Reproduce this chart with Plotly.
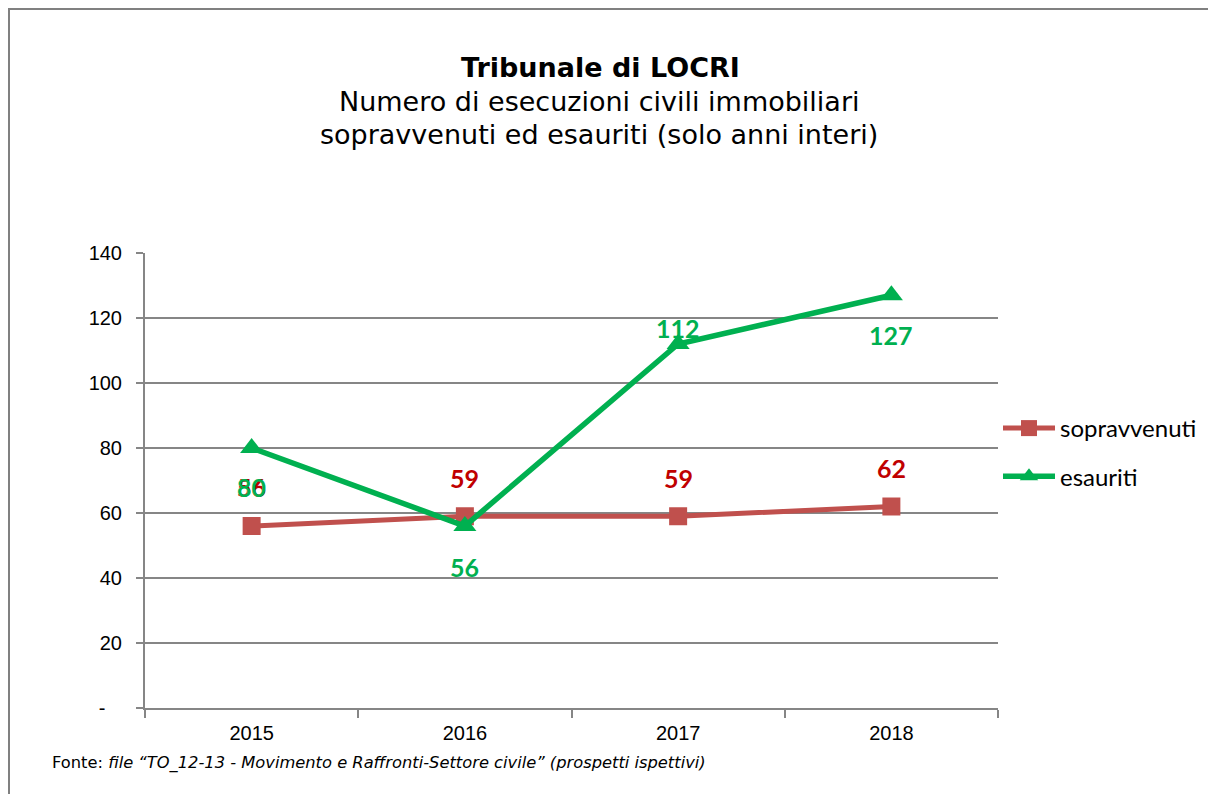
import plotly.graph_objects as go

years = ["2015", "2016", "2017", "2018"]
sopravvenuti = [56, 59, 59, 62]
esauriti = [80, 56, 112, 127]
y_tick_vals = [0, 20, 40, 60, 80, 100, 120, 140]
y_tick_text = ["-\u00a0\u00a0\u00a0", "20", "40", "60", "80", "100", "120", "140"]

title = "<b>Tribunale di LOCRI</b>"
subtitle1 = "Numero di esecuzioni civili immobiliari"
subtitle2 = "sopravvenuti ed esauriti (solo anni interi)"
source = "Fonte: <i>file “TO_12-13 - Movimento e Raffronti-Settore civile” (prospetti ispettivi)</i>"

RED = "#C0504D"
RED_LBL = "#C00000"
GREEN = "#00B050"
GRID = "#868686"

# page body adds an 8px offset; work in target-picture pixels and subtract it
OFF = 8
W, H = 1216 - OFF, 794 - OFF
L, R, T, B = 145 - OFF, 1216 - 998, 253 - OFF, 794 - 708
pw, ph = W - L - R, H - T - B


def dx(xp):
    return (xp - OFF - L) / pw


def dy(yp):
    return (H - B - (yp - OFF)) / ph


fig = go.Figure()
fig.add_trace(go.Scatter(
    x=years, y=sopravvenuti, name="sopravvenuti", mode="lines+markers",
    line=dict(color=RED, width=5),
    marker=dict(symbol="square", size=18, color=RED),
    legendgroup="a",
))
fig.add_trace(go.Scatter(
    x=years, y=esauriti, name="esauriti", mode="lines+markers",
    line=dict(color=GREEN, width=5.5),
    marker=dict(symbol="triangle-up", size=20, color=GREEN),
    legendgroup="b",
))

annotations = []
red_shift = [39, 38, 38, 39]
green_shift = [-39, -41, 16, -40]
for i, (v, s) in enumerate(zip(sopravvenuti, red_shift)):
    annotations.append(dict(x=i, y=v, xref="x", yref="y", text=str(v), showarrow=False,
                            yshift=s, font=dict(family="Lato", size=25, color=RED_LBL, weight="bold")))
for i, (v, s) in enumerate(zip(esauriti, green_shift)):
    annotations.append(dict(x=i, y=v, xref="x", yref="y", text=str(v), showarrow=False,
                            yshift=s, font=dict(family="Lato", size=25, color=GREEN, weight="bold")))

annotations += [
    dict(x=dx(600), y=dy(68), xref="x domain", yref="y domain", xanchor="center", yanchor="middle",
         text=title, showarrow=False, font=dict(family="DejaVu Sans", size=27, color="black")),
    dict(x=dx(599), y=dy(101), xref="x domain", yref="y domain", xanchor="center", yanchor="middle",
         text=subtitle1, showarrow=False, font=dict(family="DejaVu Sans", size=27, color="black")),
    dict(x=dx(599), y=dy(134), xref="x domain", yref="y domain", xanchor="center", yanchor="middle",
         text=subtitle2, showarrow=False, font=dict(family="DejaVu Sans", size=27, color="black")),
    dict(x=dx(50), y=dy(763), xref="x domain", yref="y domain", xanchor="left", yanchor="middle",
         text=source, showarrow=False, font=dict(family="DejaVu Sans", size=16.3, color="black")),
]

shapes = [
    dict(type="line", xref="x domain", yref="y domain", x0=dx(8), x1=dx(1216), y0=dy(9), y1=dy(9),
         line=dict(color="#808080", width=2)),
    dict(type="line", xref="x domain", yref="y domain", x0=dx(9), x1=dx(9), y0=dy(8), y1=dy(794),
         line=dict(color="#808080", width=2)),
]

fig.update_layout(
    width=W, height=H,
    margin=dict(l=L, r=R, t=T, b=B),
    paper_bgcolor="white", plot_bgcolor="white",
    showlegend=True,
    legend=dict(x=dx(998), y=dy(406), xanchor="left", yanchor="top",
                font=dict(family="Lato", size=24, color="black"),
                tracegroupgap=14, bgcolor="rgba(0,0,0,0)", itemwidth=52),
    annotations=annotations,
    shapes=shapes,
    xaxis=dict(type="category", range=[-0.5, 3.5], showgrid=False,
               showline=True, linecolor=GRID, linewidth=2,
               ticks="outside", tickson="boundaries", ticklen=8, tickcolor=GRID, tickwidth=1.5,
               ticklabelstandoff=6,
               tickfont=dict(family="Liberation Sans", size=20, color="black")),
    yaxis=dict(range=[0, 140], tickvals=y_tick_vals, ticktext=y_tick_text,
               showgrid=True, gridcolor=GRID, gridwidth=1.5,
               showline=True, linecolor=GRID, linewidth=2, zeroline=False,
               ticks="outside", ticklen=7, tickcolor=GRID, tickwidth=1.5,
               ticklabelstandoff=10,
               tickfont=dict(family="Liberation Sans", size=20, color="black")),
)

fig.write_html("out.html")
